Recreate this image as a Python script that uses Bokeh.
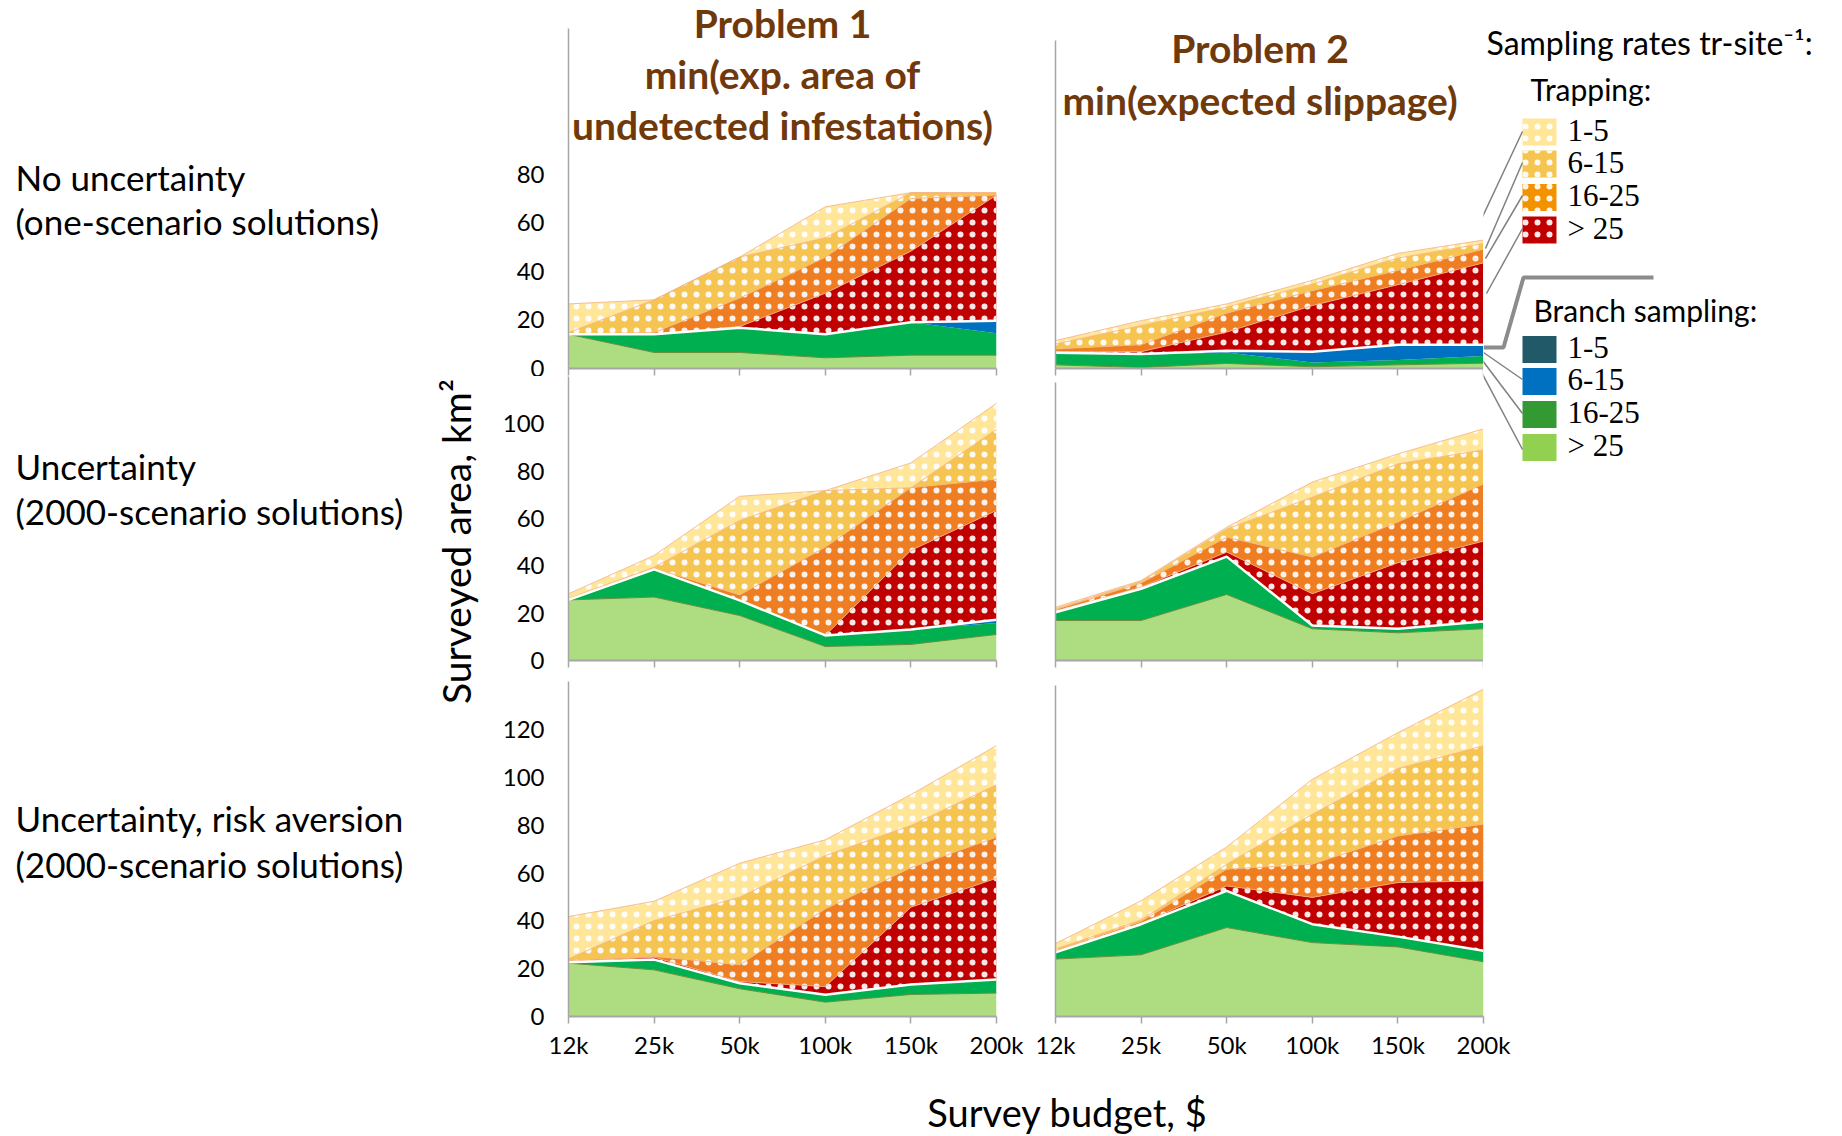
import numpy as np
from bokeh.plotting import figure
from bokeh.models import Range1d, FixedTicker, Label
from bokeh.layouts import row, column
from bokeh.embed import file_html
from bokeh.resources import INLINE

# ---------------- data ----------------
BUDGETS = ["12k", "25k", "50k", "100k", "150k", "200k"]
RATES = ["1-5", "6-15", "16-25", "> 25"]

# Problem 1, no uncertainty
A_br_gt25 = [14.1, 6.6, 6.6, 4.4, 5.5, 5.5]
A_br_16_25 = [0.0, 7.5, 10.2, 9.7, 13.5, 9.0]
A_br_6_15 = [0.0, 0.0, 0.0, 0.0, 0.0, 5.2]
A_br_1_5 = [0.0, 0.0, 0.0, 0.0, 0.0, 0.0]
A_tr_gt25 = [0.0, 0.0, 0.5, 16.9, 29.3, 51.7]
A_tr_16_25 = [0.0, 0.7, 11.7, 14.8, 21.7, 0.0]
A_tr_6_15 = [0.7, 13.5, 16.9, 8.0, 2.4, 1.0]
A_tr_1_5 = [11.8, 0.0, 0.0, 12.8, 0.0, 0.0]

# Problem 2, no uncertainty
B_br_gt25 = [1.5, 0.4, 2.1, 0.7, 1.5, 2.2]
B_br_16_25 = [4.8, 5.3, 4.5, 1.8, 2.0, 3.0]
B_br_6_15 = [0.2, 0.3, 0.7, 4.4, 5.9, 4.2]
B_br_1_5 = [0.0, 0.0, 0.0, 0.0, 0.4, 0.4]
B_tr_gt25 = [0.4, 0.9, 7.7, 19.0, 24.7, 33.7]
B_tr_16_25 = [1.1, 2.9, 7.8, 6.1, 5.9, 5.6]
B_tr_6_15 = [2.1, 7.9, 2.5, 2.8, 5.1, 2.4]
B_tr_1_5 = [1.4, 2.0, 1.3, 1.5, 1.9, 1.4]

# Problem 1, uncertainty
C_br_gt25 = [25.6, 26.8, 19.0, 5.9, 6.8, 11.0]
C_br_16_25 = [0.0, 11.7, 6.4, 4.7, 6.3, 4.8]
C_br_6_15 = [0.0, 0.0, 0.0, 0.0, 0.0, 1.4]
C_br_1_5 = [0.0, 0.0, 0.0, 0.0, 0.0, 0.0]
C_tr_gt25 = [0.0, 0.0, 0.0, 0.0, 33.4, 46.2]
C_tr_16_25 = [0.3, 0.5, 2.3, 37.3, 26.5, 13.2]
C_tr_6_15 = [0.3, 0.4, 31.5, 23.9, 0.0, 21.1]
C_tr_1_5 = [2.0, 5.0, 10.2, 0.0, 10.5, 11.0]

# Problem 2, uncertainty
D_br_gt25 = [16.9, 16.9, 27.9, 13.4, 11.7, 13.4]
D_br_16_25 = [3.5, 13.4, 16.0, 1.4, 1.7, 3.1]
D_br_6_15 = [0.0, 0.0, 0.0, 0.0, 0.0, 0.0]
D_br_1_5 = [0.0, 0.0, 0.0, 0.0, 0.0, 0.0]
D_tr_gt25 = [0.4, 0.7, 1.9, 13.4, 27.9, 33.9]
D_tr_16_25 = [0.6, 1.7, 6.3, 15.5, 17.2, 24.2]
D_tr_6_15 = [0.4, 0.7, 3.5, 25.3, 24.6, 14.4]
D_tr_1_5 = [0.7, 0.4, 0.7, 6.4, 4.2, 8.9]

# Problem 1, uncertainty + risk aversion
E_br_gt25 = [22.3, 19.5, 11.6, 6.0, 9.2, 9.8]
E_br_16_25 = [0.4, 4.3, 2.3, 3.1, 4.2, 5.7]
E_br_6_15 = [0.0, 0.0, 0.0, 0.0, 0.0, 0.0]
E_br_1_5 = [0.0, 0.0, 0.0, 0.0, 0.0, 0.0]
E_tr_gt25 = [0.3, 1.0, 0.7, 3.4, 32.3, 42.3]
E_tr_16_25 = [0.4, 0.3, 7.0, 32.5, 16.5, 17.2]
E_tr_6_15 = [0.7, 15.0, 28.3, 22.3, 17.7, 21.9]
E_tr_1_5 = [17.7, 8.1, 14.2, 6.6, 12.9, 16.4]

# Problem 2, uncertainty + risk aversion
F_br_gt25 = [24.0, 25.8, 37.2, 30.9, 29.1, 22.9]
F_br_16_25 = [2.8, 12.8, 15.3, 7.7, 4.3, 4.6]
F_br_6_15 = [0.0, 0.0, 0.0, 0.0, 0.0, 0.0]
F_br_1_5 = [0.0, 0.0, 0.0, 0.0, 0.0, 0.0]
F_tr_gt25 = [0.2, 0.3, 2.1, 11.2, 22.6, 29.2]
F_tr_16_25 = [0.5, 0.8, 7.0, 13.9, 19.5, 23.7]
F_tr_6_15 = [0.7, 0.7, 2.1, 20.9, 28.2, 32.8]
F_tr_1_5 = [2.3, 8.0, 7.2, 14.6, 15.0, 23.7]

ROW_LABELS = [["No uncertainty", "(one-scenario solutions)"],
              ["Uncertainty", "(2000-scenario solutions)"],
              ["Uncertainty, risk aversion", "(2000-scenario solutions)"]]
TITLE_P1 = ["Problem 1", "min(exp. area of", "undetected infestations)"]
TITLE_P2 = ["Problem 2", "min(expected slippage)"]

# ---------------- styles ----------------
TR_COL = ["#FFE699", "#F6C451", "#EE7E21", "#C00000"]   # 1-5, 6-15, 16-25, >25
BR_COL = ["#215968", "#0070C0", "#00B050", "#AEDC80"]
TR_LEG = ["#FFE699", "#F6C451", "#F39200", "#C00000"]
BR_LEG = ["#215968", "#0070C0", "#339933", "#92D050"]
AXIS_COL = "#A6A6A6"
TITLE_COL = "#70390B"
SANS = "Lato"
SERIF = "Liberation Serif"

HATCH = dict(hatch_pattern="dot", hatch_color="white", hatch_scale=12, hatch_weight=1, hatch_alpha=0.9)


def make_panel(series, width, height, mbl, mbr, mbt, mbb, ymax, ybound, yticks, show_ylab, show_xlab):
    p = figure(width=width, height=height, output_backend="svg", toolbar_location=None,
               x_range=Range1d(0, len(BUDGETS) - 1), y_range=Range1d(0, ymax),
               min_border_left=mbl, min_border_right=mbr, min_border_top=mbt, min_border_bottom=mbb)
    p.outline_line_color = None
    p.xgrid.visible = False
    p.ygrid.visible = False
    x = np.arange(len(BUDGETS))
    colors = [BR_COL[3], BR_COL[2], BR_COL[1], BR_COL[0], TR_COL[3], TR_COL[2], TR_COL[1], TR_COL[0]]
    base = np.zeros(len(x))
    tops = []
    for i, vals in enumerate(series):
        top = base + np.asarray(vals, dtype=float)
        kw = HATCH if i >= 4 else {}
        p.varea(x=x, y1=base, y2=top, fill_color=colors[i], **kw)
        tops.append(top)
        base = top
    p.line(x, tops[0], line_color="#6E8C3C", line_width=1)
    for i in range(4, 8):
        p.line(x, tops[i], line_color="#F4B183", line_width=1, line_alpha=0.8)
    p.line(x, tops[3], line_color="white", line_width=2.5)

    xa = p.xaxis[0]
    xa.ticker = FixedTicker(ticks=list(x))
    xa.major_label_overrides = {int(i): lab for i, lab in zip(x, BUDGETS)}
    xa.axis_line_color = AXIS_COL
    xa.axis_line_width = 2
    xa.major_tick_line_color = AXIS_COL
    xa.major_tick_line_width = 1.5
    xa.major_tick_out = 7
    xa.major_tick_in = 0
    xa.minor_tick_line_color = None
    xa.major_label_text_font = SANS
    if show_xlab:
        xa.major_label_text_font_size = "24px"
        xa.major_label_text_color = "black"
        xa.major_label_standoff = 6
    else:
        xa.major_label_text_font_size = "1px"
        xa.major_label_text_color = None
        xa.major_label_standoff = 0

    ya = p.yaxis[0]
    ya.bounds = (0, ybound)
    ya.axis_line_color = AXIS_COL
    ya.axis_line_width = 1.5
    ya.major_tick_line_color = None
    ya.major_tick_out = 0
    ya.major_tick_in = 0
    ya.minor_tick_line_color = None
    ya.major_label_text_font = SANS
    ya.major_label_text_color = "black"
    if show_ylab:
        ya.ticker = FixedTicker(ticks=yticks)
        ya.major_label_text_font_size = "24px"
        ya.major_label_standoff = 24
    else:
        ya.ticker = FixedTicker(ticks=[])
        ya.major_label_standoff = 0
    return p


def series_of(prefix):
    g = globals()
    return [g[prefix + s] for s in ["_br_gt25", "_br_16_25", "_br_6_15", "_br_1_5",
                                    "_tr_gt25", "_tr_16_25", "_tr_6_15", "_tr_1_5"]]


# ---------------- layout (pixels) ----------------
LEFTW = 498
LW, RW, LEGW = 527, 458, 355
H1, H2, H3, HX = 376, 304, 406, 48
SC1 = 340 / 140.0     # px per unit, row 1
SC2 = 284 / 120.0     # row 2
SC3 = 336 / 140.5     # row 3
F1, F2, F3 = H1 - 8, H2 - 20, H3 - 70   # frame heights

pA = make_panel(series_of("A"), LW, H1, 70, 29, 0, 8, F1 / SC1, 140, [0, 20, 40, 60, 80], True, False)
pB = make_panel(series_of("B"), RW, H1, 30, 0, 0, 8, F1 / SC1, (F1 - 40) / SC1, None, False, False)
pC = make_panel(series_of("C"), LW, H2, 70, 29, 0, 20, F2 / SC2, 120, [0, 20, 40, 60, 80, 100], True, False)
pD = make_panel(series_of("D"), RW, H2, 30, 0, 0, 20, F2 / SC2, (F2 - 6) / SC2, None, False, False)
pE = make_panel(series_of("E"), LW, H3, 70, 29, 0, 70, F3 / SC3, 140, [0, 20, 40, 60, 80, 100, 120], True, True)
pF = make_panel(series_of("F"), 493, H3, 30, 35, 0, 70, F3 / SC3, (F3 - 5) / SC3, None, False, True)

# panel titles (pixel rows converted to each panel's data units)
for i, t in enumerate(TITLE_P1):
    pA.add_layout(Label(x=2.5, y=(F1 - (22 + 51 * i)) / SC1, text=t, text_align="center",
                        text_baseline="middle", text_font=SANS, text_font_size="39px",
                        text_font_style="bold", text_color=TITLE_COL))
for i, t in enumerate(TITLE_P2):
    pB.add_layout(Label(x=2.39, y=(F1 - (47 + 52 * i)) / SC1, text=t, text_align="center",
                        text_baseline="middle", text_font=SANS, text_font_size="39px",
                        text_font_style="bold", text_color=TITLE_COL))


def blank(width, height, x0, x1, y0, y1):
    p = figure(width=width, height=height, output_backend="svg", toolbar_location=None,
               x_range=Range1d(x0, x1), y_range=Range1d(y1, y0),
               x_axis_type=None, y_axis_type=None,
               min_border_left=0, min_border_right=0, min_border_top=0, min_border_bottom=0)
    p.outline_line_color = None
    p.grid.visible = False
    return p


TOTAL_H = H1 + H2 + H3 + HX
# left column: row labels and y-axis title (page pixel coordinates)
pL = blank(LEFTW, TOTAL_H, 0, LEFTW, 0, TOTAL_H)
row_centres = [(176, 220), (465, 510), (817, 863)]
for (l1, l2), (c1, c2) in zip(ROW_LABELS, row_centres):
    for t, c in ((l1, c1), (l2, c2)):
        pL.add_layout(Label(x=15, y=c, text=t, text_align="left", text_baseline="middle",
                            text_font=SANS, text_font_size="35px", text_color="black"))
pL.add_layout(Label(x=455, y=541, text="Surveyed area, km²", angle=np.pi / 2, text_align="center",
                    text_baseline="middle", text_font=SANS, text_font_size="39px", text_color="black"))

# legend column
x0g = LEFTW + LW + RW
pG = blank(LEGW, H1 + H2, x0g, x0g + LEGW, 0, H1 + H2)
pG.add_layout(Label(x=1486, y=42, text="Sampling rates tr-site⁻¹:", text_align="left",
                    text_baseline="middle", text_font=SANS, text_font_size="32px", text_color="black"))
pG.add_layout(Label(x=1530, y=88, text="Trapping:", text_align="left",
                    text_baseline="middle", text_font=SANS, text_font_size="30px", text_color="black"))
pG.add_layout(Label(x=1533, y=309, text="Branch sampling:", text_align="left",
                    text_baseline="middle", text_font=SANS, text_font_size="30px", text_color="black"))
tr_c = np.array([131.5, 163.5, 197.0, 229.5])
br_c = np.array([349.0, 381.0, 414.0, 447.0])
for cents, cols, hatched in ((tr_c, TR_LEG, True), (br_c, BR_LEG, False)):
    for c, col, lab in zip(cents, cols, RATES):
        kw = HATCH if hatched else {}
        pG.varea(x=[1522, 1556], y1=[c - 13.5, c - 13.5], y2=[c + 13.5, c + 13.5], fill_color=col, **kw)
        pG.add_layout(Label(x=1567, y=c - 2, text=lab, text_align="left", text_baseline="middle",
                            text_font=SERIF, text_font_size="31px", text_color="black"))
# leader lines
pG.segment(x0=[1470, 1485, 1485, 1486, 1483, 1482, 1480],
           y0=[242, 248, 258, 293, 352, 360, 370],
           x1=[1522, 1522, 1522, 1522, 1522, 1522, 1522],
           y1=[131, 162, 195, 228, 379, 413, 449],
           line_color="#808080", line_width=1.5)
pG.line(x=[1483, 1503, 1523, 1653], y=[347, 347, 277, 277], line_color="#8C8C8C", line_width=4)

# x-axis title
y0x = H1 + H2 + H3
pX = blank(LW + RW + LEGW, HX, LEFTW, LEFTW + LW + RW + LEGW, y0x, y0x + HX)
pX.add_layout(Label(x=1067, y=1111, text="Survey budget, $", text_align="center", text_baseline="middle",
                    text_font=SANS, text_font_size="38px", text_color="black"))

top_part = row(column(row(pA, pB), row(pC, pD)), pG)
right_col = column(top_part, row(pE, pF), pX)
page = row(pL, right_col)

open("out.html", "w").write(file_html(page, INLINE))
